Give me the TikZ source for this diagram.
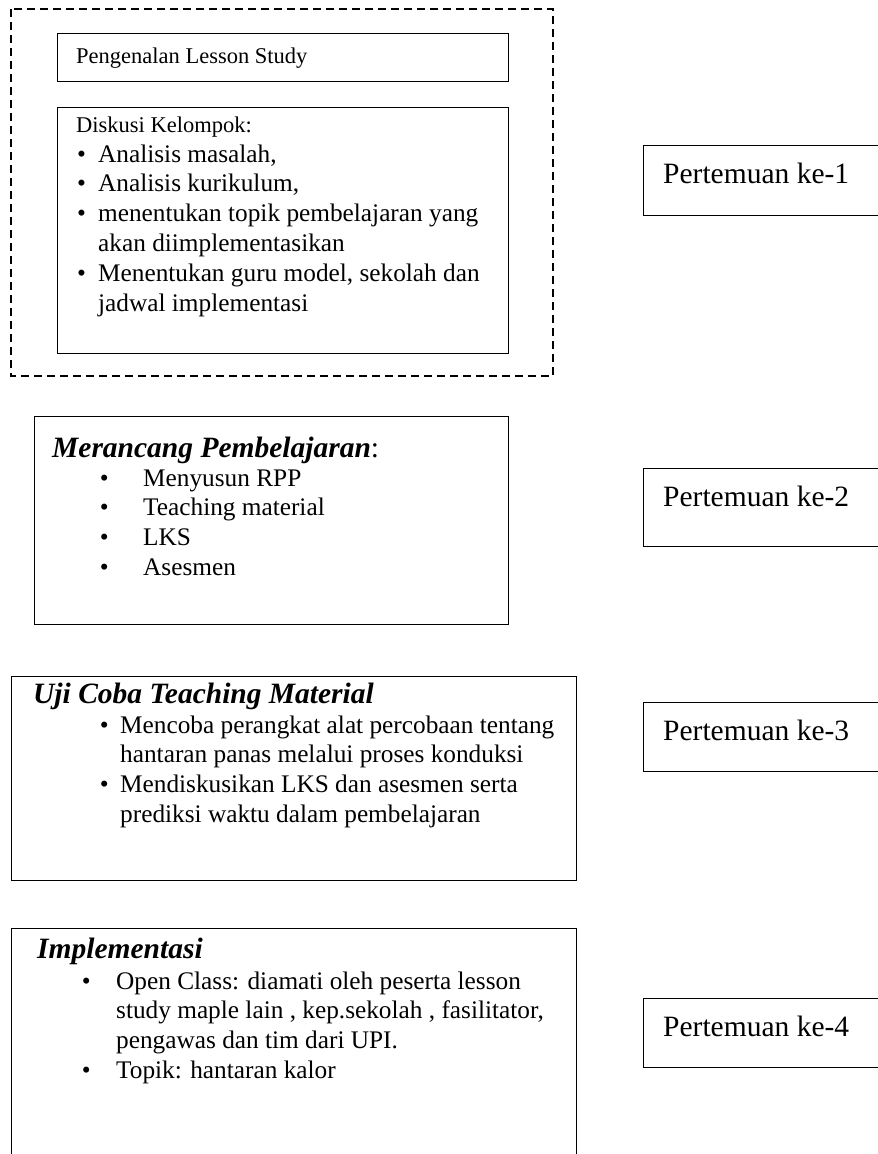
\documentclass[tikz,border=0pt]{standalone}
\usepackage{fontspec}
\setmainfont{Liberation Serif}
\usetikzlibrary{positioning}

\newcommand{\bul}[1]{\makebox[#1][l]{•}}

\begin{document}
\begin{tikzpicture}[
            x=1pt, y=-1pt,
            box/.style={draw, line width=1.4pt, anchor=north west, inner sep=0pt},
            dashbox/.style={draw, dashed, line width=1.3pt, dash pattern=on 8pt off 5pt},
            head/.style={anchor=base west, inner sep=0pt, font=\fontsize{22.5}{27}\selectfont},
            ttl/.style={anchor=base west, inner sep=0pt, font=\fontsize{29.5}{34}\selectfont\bfseries\itshape},
            lst/.style={anchor=base west, inner sep=0pt, font=\fontsize{25.3}{29.8}\selectfont},
            pmeet/.style={anchor=base west, inner sep=0pt, font=\fontsize{29.5}{34}\selectfont}
        ]
            \clip (0,0) rectangle (878,1154);

            % Pertemuan 1: dashed group
            \draw[dashbox] (11,9) rectangle (553,376);
            \node[box, minimum width=451pt, minimum height=48pt] (intro) at (57,33) {};
            \node[head] (introT) at (76,63) {Pengenalan Lesson Study};
            \node[box, minimum width=451pt, minimum height=246pt] (disc) at (57,107) {};
            \node[head] (discT) at (76,132) {Diskusi Kelompok:};
            \node[lst] (discL) at (77,162) {\begin{tabular}[t]{@{}l@{}l@{}}
                \bul{21pt} & Analisis masalah,\\
                \bul{21pt} & Analisis kurikulum,\\
                \bul{21pt} & menentukan topik pembelajaran yang\\
                           & akan diimplementasikan\\
                \bul{21pt} & Menentukan guru model, sekolah dan\\
                           & jadwal implementasi
            \end{tabular}};

            % Pertemuan 2
            \node[box, minimum width=474pt, minimum height=208pt] (plan) at (34,416) {};
            \node[ttl] (planT) at (52,457) {Merancang Pembelajaran\textmd{\upshape:}};
            \node[lst] (planL) at (99.6,486) {\begin{tabular}[t]{@{}l@{}l@{}}
                \bul{43.4pt} & Menyusun RPP\\
                \bul{43.4pt} & Teaching material\\
                \bul{43.4pt} & LKS\\
                \bul{43.4pt} & Asesmen
            \end{tabular}};

            % Pertemuan 3
            \node[box, minimum width=565pt, minimum height=204pt] (trial) at (11,676) {};
            \node[ttl] (trialT) at (33,703) {Uji Coba Teaching Material};
            \node[lst] (trialL) at (99.7,733) {\begin{tabular}[t]{@{}l@{}l@{}}
                \bul{20.3pt} & Mencoba perangkat alat percobaan tentang\\
                             & hantaran panas melalui proses konduksi\\
                \bul{20.3pt} & Mendiskusikan LKS dan asesmen serta\\
                             & prediksi waktu dalam pembelajaran
            \end{tabular}};

            % Pertemuan 4
            \node[box, minimum width=565pt, minimum height=250pt] (impl) at (11,928) {};
            \node[ttl] (implT) at (37,958) {Implementasi};
            \node[lst] (implL) at (81.6,989) {\begin{tabular}[t]{@{}l@{}l@{}}
                \bul{34.4pt} & Open Class: diamati oleh peserta lesson\\
                             & study maple lain , kep.sekolah , fasilitator,\\
                             & pengawas dan tim dari UPI.\\
                \bul{34.4pt} & Topik: hantaran kalor
            \end{tabular}};

            % Right column
            \node[box, minimum width=260pt, minimum height=70pt] (meet1) at (643,145) {};
            \node[pmeet] (meet1T) at (663,183) {Pertemuan ke-1};
            \node[box, minimum width=260pt, minimum height=78pt] (meet2) at (643,468) {};
            \node[pmeet] (meet2T) at (663,506) {Pertemuan ke-2};
            \node[box, minimum width=260pt, minimum height=69pt] (meet3) at (643,702) {};
            \node[pmeet] (meet3T) at (663,740) {Pertemuan ke-3};
            \node[box, minimum width=260pt, minimum height=69pt] (meet4) at (643,998) {};
            \node[pmeet] (meet4T) at (663,1036) {Pertemuan ke-4};
        \end{tikzpicture}
\end{document}
